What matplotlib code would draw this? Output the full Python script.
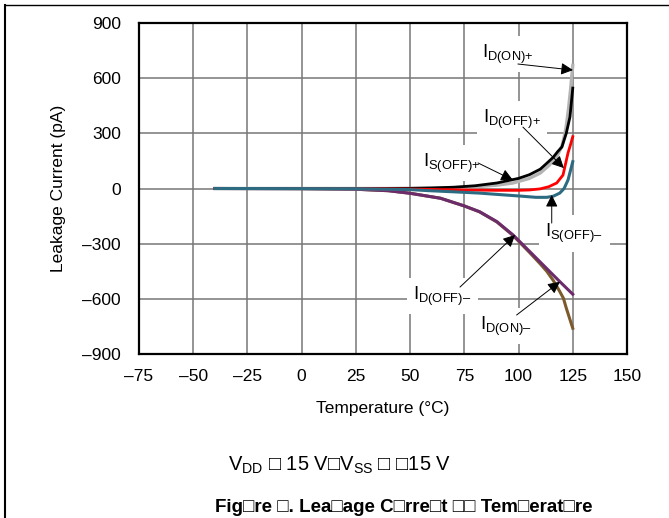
import matplotlib
matplotlib.use("Agg")
import matplotlib.pyplot as plt
from matplotlib.lines import Line2D

plt.rcParams['font.family'] = ['Liberation Sans', 'DejaVu Sans']
plt.rcParams['mathtext.fontset'] = 'custom'
plt.rcParams['mathtext.rm'] = 'Liberation Sans'
plt.rcParams['mathtext.it'] = 'Liberation Sans:italic'
plt.rcParams['mathtext.bf'] = 'Liberation Sans:bold'

# leakage current (pA) vs temperature (C)
t_is_off_p = [-40, 0, 25, 50, 60, 70, 80, 90, 100, 105, 110, 113, 116, 118, 120, 122, 123.7, 125]
is_off_p = [0, 0, 0, 1, 3, 7, 15, 30, 55, 75, 105, 137, 170, 200, 226, 300, 389, 546]

t_id_on_p = [-40, 25, 50, 75, 90, 97.5, 105, 110, 114, 117.6, 120, 121.4, 122, 123, 124, 125]
id_on_p = [0, 0, 0, 5, 18, 30, 55, 84, 125, 173, 230, 300, 340, 430, 540, 670]

t_id_off_p = [-40, 25, 50, 75, 90, 100, 105, 110, 114, 117.6, 120.5, 122.8, 124, 125]
id_off_p = [0, 0, -3, -8, -10, -10, -8, -2, 10, 30, 73, 193, 240, 282]

t_is_off_n = [-40, 25, 50, 59, 70, 82, 90, 100.6, 108, 113, 116, 119, 121, 122.8, 124, 125]
is_off_n = [0, -1, -6, -12, -18, -25, -32, -41, -48, -48, -42, -25, 0, 46, 100, 146]

t_id_off_n = [-40, 0, 25, 40, 50, 64, 75, 82, 90, 97.5, 105, 110, 115, 119, 125]
id_off_n = [0, -1, -4, -12, -26, -53, -95, -126, -180, -253, -341, -400, -459, -506, -575]

t_id_on_n = [-40, 0, 25, 40, 50, 64, 75, 82, 90, 97.5, 105, 110, 113, 116, 119, 120.7, 122, 123.5, 125]
id_on_n = [0, -1, -4, -12, -26, -53, -95, -127, -182, -256, -347, -410, -450, -500, -560, -597, -650, -705, -760]

x_ticks = [-75, -50, -25, 0, 25, 50, 75, 100, 125, 150]
y_ticks = [-900, -600, -300, 0, 300, 600, 900]

fig = plt.figure(figsize=(6.69, 5.18), dpi=100)
ax = fig.add_axes([0.2078, 0.3166, 0.7294, 0.639])

ax.plot(t_id_on_n, id_on_n, color='#7d5a2c', lw=2.2)
ax.plot(t_id_off_n, id_off_n, color='#6c2c6c', lw=2.2)
ax.plot(t_id_on_p, id_on_p, color='#b4b4b4', lw=2.4)
ax.plot(t_is_off_p, is_off_p, color='black', lw=2.0)
ax.plot(t_id_off_p, id_off_p, color='#ff0000', lw=2.0)
ax.plot(t_is_off_n, is_off_n, color='#2d6b82', lw=2.2)

ax.set_xlim(-75, 150)
ax.set_ylim(-900, 900)
ax.set_xticks(x_ticks)
ax.set_yticks(y_ticks)
ax.set_xticklabels([str(v).replace('-', '–') for v in x_ticks])
ax.set_yticklabels([str(v).replace('-', '–') for v in y_ticks])
ax.tick_params(length=0, labelsize=12.5)
ax.tick_params(axis='x', pad=11)
ax.tick_params(axis='y', pad=13)
ax.grid(True, color='#777777', lw=1.1)
ax.set_axisbelow(True)
for s in ax.spines.values():
    s.set_linewidth(1.6)

ax.set_xlabel('Temperature (°C)', fontsize=12.5, labelpad=12)
ax.set_ylabel('Leakage Current (pA)', fontsize=12.5, labelpad=12)

# labels and arrows
labels = [
    ('$\\mathrm{I_{D(ON){+}}}$', (83.1, 710), (99.7, 677), (125.1, 644)),
    ('$\\mathrm{I_{D(OFF){+}}}$', (83.6, 356), (102.0, 334), (120.9, 111)),
    ('$\\mathrm{I_{S(OFF){+}}}$', (55.9, 117), (81.3, 139), (97.4, 46)),
    ('$\\mathrm{I_{S(OFF)–}}$', (112.4, -264), (115.3, -188), (115.3, -35)),
    ('$\\mathrm{I_{D(OFF)–}}$', (51.5, -606), (73.0, -536), (98.4, -253)),
    ('$\\mathrm{I_{D(ON)–}}$', (82.2, -769), (99.1, -688), (119.1, -507)),
]
for txt, pos, start, tip in labels:
    ax.text(pos[0], pos[1], txt, fontsize=13.3, ha='left', va='baseline', zorder=4,
            bbox=dict(boxstyle='square,pad=0.35', facecolor='white', edgecolor='none'))
    ax.annotate('', xy=tip, xytext=start, zorder=5,
                arrowprops=dict(arrowstyle='-|>', color='black', lw=0.7,
                                mutation_scale=18, shrinkA=0, shrinkB=0))

fig.text(228 / 669, 47 / 518, 'V$_{\\mathrm{DD}}$ □ 15 V□V$_{\\mathrm{SS}}$ □ □15 V',
         ha='left', va='baseline', fontsize=14.5)
fig.text(215 / 669, 6 / 518, 'Fig□re □. Lea□age C□rre□t □□ Tem□erat□re',
         ha='left', va='baseline', fontsize=13.5, fontweight='bold')

# page frame lines
fig.add_artist(Line2D([5 / 669, 1], [1 - 5 / 518, 1 - 5 / 518], transform=fig.transFigure, color='black', lw=1))
fig.add_artist(Line2D([5 / 669, 5 / 669], [0, 1 - 5 / 518], transform=fig.transFigure, color='black', lw=1.5))

plt.savefig('out.png', dpi=100)
